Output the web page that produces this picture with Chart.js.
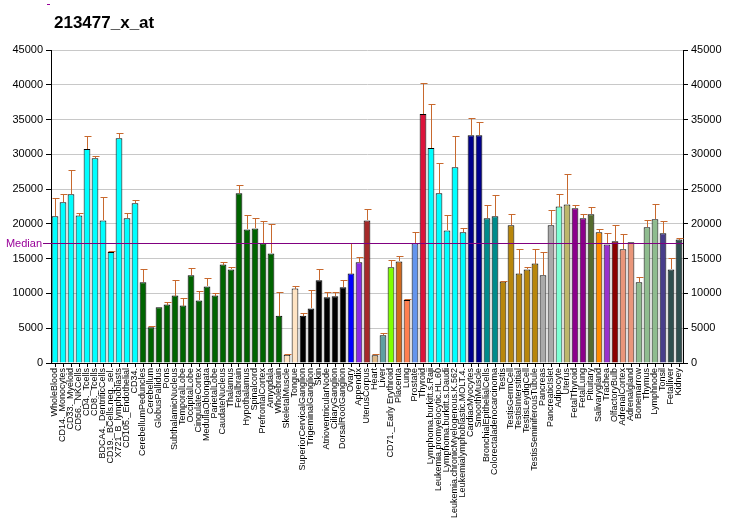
<!DOCTYPE html>
<html>
<head>
<meta charset="utf-8">
<script src="https://cdn.jsdelivr.net/npm/chart.js@4.4.1/dist/chart.umd.min.js"></script>
<style>
  body { margin: 0; background: #fff; }
  #chart { display: block; }
</style>
</head>
<body>
<canvas id="chart" width="732" height="530"></canvas>
<script>
const title = '213477_x_at';
const median = 17200;

const tissues = [
    'WholeBlood', 'CD14._Monocytes', 'CD33._Myeloid', 'CD56._NKCells', 'CD4._Tcells', 'CD8._Tcells',
    'BDCA4._DentriticCells', 'CD19._BCells.neg._sel.', 'X721_B_lymphoblasts', 'CD105._Endothelial', 'CD34.',
    'CerebellumPeduncles', 'Cerebellum', 'GlobusPallidus', 'Pons', 'SubthalamicNucleus', 'TemporalLobe',
    'OccipitalLobe', 'CingulateCortex', 'MedullaOblongata', 'ParietalLobe', 'CaudateNucleus', 'Thalamus',
    'Fetalbrain', 'Hypothalamus', 'Spinalcord', 'PrefrontalCortex', 'Amygdala', 'Wholebrain',
    'SkeletalMuscle', 'Tongue', 'SuperiorCervicalGanglion', 'TrigeminalGanglion', 'Skin',
    'AtrioventricularNode', 'CiliaryGanglion', 'DorsalRootGanglion', 'Ovary', 'Appendix', 'UterusCorpus',
    'Heart', 'Liver', 'CD71._Early Erythroid', 'Placenta', 'Lung', 'Prostate', 'Thyroid',
    'Lymphoma.burkitt.s.Raji', 'Leukemia.promyelocytic.HL.60', 'Lymphoma.burkitt.s.Daudi',
    'Leukemia.chronicMyelogenous.K.562', 'Leukemialymphoblastic.MOLT.4.', 'CardiacMyocytes', 'SmoothMuscle',
    'BronchialEpithelialCells', 'Colorectaladenocarcinoma', 'Testis', 'TestisGermCell', 'TestisInterstitial',
    'TestisLeydigCell', 'TestisSeminiferousTubule', 'Pancreas', 'PancreaticIslet', 'Adipocyte', 'Uterus',
    'FetalThyroid', 'FetalLung', 'Pituitary', 'Salivarygland', 'Trachea', 'OlfactoryBulb', 'AdrenalCortex',
    'Adrenalgland', 'Bonemarrow', 'Thymus', 'Lymphnode', 'Tonsil', 'Fetalliver', 'Kidney'
];

const expression = [
    21100, 23100, 24250, 21200, 30750, 29450, 20500, 15950, 32300, 20800, 22950,
    11600, 5150, 8000, 8400, 9700, 8250, 12600, 9000, 11000, 9700, 14150, 13450,
    24400, 19200, 19350, 17200, 15750, 6800,
    1200, 10700, 6800, 7850, 11900, 9450, 9600, 10900, 12850, 14500, 20500,
    1100, 4000, 13750, 14600, 9050, 17200, 35800,
    30900, 24400, 19050, 28150, 18800, 32750, 32750,
    20800, 21100, 11700, 19800, 12850, 13450, 14300, 12600, 19800, 22500, 22800,
    22250, 20800, 21400, 18800, 17050, 17500, 16350, 17350, 11600, 19500, 20650, 18650, 13450, 17750
];

const errorTop = [
    23700, 24350, 27700, 21500, 32600, 29750, 23800, 16050, 33050, 21500, 23400,
    13450, 5250, 8100, 8700, 12000, 9400, 13600, 10300, 12150, 10000, 14450, 13750,
    25550, 21250, 20800, 20350, 19950, 10150,
    1350, 11000, 7200, 10550, 13550, 10250, 10250, 12000, 17200, 15250, 22100,
    1350, 4350, 14750, 15400, 9150, 18800, 40250,
    37200, 28700, 21250, 32600, 19350, 35200, 34650,
    22650, 24100, 11850, 21400, 16350, 13750, 16450, 15900, 21950, 24250, 27150,
    22650, 21400, 22400, 19200, 18650, 19800, 18500, 17350, 12300, 20500, 22800, 20350, 15050, 17900
];

const barColors = [
    ...Array(11).fill('#00FFFF'),
    ...Array(18).fill('#006400'),
    '#FFE4C4', '#FFE4C4',
    ...Array(6).fill('#000000'),
    '#0000FF', '#8A2BE2', '#A52A2A', '#DEB887', '#5F9EA0', '#7FFF00', '#D2691E', '#FF7F50', '#6495ED', '#DC143C',
    ...Array(5).fill('#00FFFF'),
    '#00008B', '#00008B', '#008B8B', '#008B8B',
    ...Array(5).fill('#B8860B'),
    '#A9A9A9', '#A9A9A9', '#7FFFD4', '#BDB76B', '#8B008B', '#8B008B', '#556B2F', '#FF8C00', '#9932CC',
    '#8B0000', '#E9967A', '#E9967A', '#8FBC8F', '#8FBC8F', '#8FBC8F', '#483D8B', '#2F4F4F', '#2F4F4F'
];

// error bars, median line, title
const extras = {
    id: 'extras',
    afterDatasetsDraw(chart) {
        const ctx = chart.ctx;
        const y = chart.scales.y;
        const area = chart.chartArea;
        const meta = chart.getDatasetMeta(0);

        ctx.save();
        ctx.strokeStyle = '#C8692E';
        ctx.lineWidth = 1;
        meta.data.forEach((bar, i) => {
            const x = Math.round(bar.x) + 0.5;
            const top = Math.round(y.getPixelForValue(expression[i]));
            const end = Math.round(y.getPixelForValue(errorTop[i])) + 0.5;
            if (end >= top) return;
            ctx.beginPath();
            ctx.moveTo(x, top);
            ctx.lineTo(x, end);
            ctx.moveTo(x - 3, end);
            ctx.lineTo(x + 4, end);
            ctx.stroke();
        });

        const my = Math.round(y.getPixelForValue(median)) + 0.5;
        ctx.strokeStyle = '#800080';
        ctx.beginPath();
        ctx.moveTo(area.left - 8, my);
        ctx.lineTo(area.right, my);
        ctx.stroke();

        ctx.fillStyle = '#990099';
        ctx.font = '11px Arial, "Liberation Sans", sans-serif';
        ctx.textAlign = 'right';
        ctx.textBaseline = 'middle';
        ctx.fillText('Median', area.left - 9, my);

        ctx.fillStyle = '#000';
        ctx.font = 'bold 17px Arial, "Liberation Sans", sans-serif';
        ctx.textAlign = 'left';
        ctx.textBaseline = 'alphabetic';
        ctx.fillText(title, 54, 28);

        ctx.fillStyle = '#990099';
        ctx.fillRect(47, 4, 3, 1);
        ctx.restore();
    }
};

const tickFont = { family: 'Arial, "Liberation Sans", sans-serif', size: 11 };
const plainNumber = value => String(value);

new Chart(document.getElementById('chart'), {
    type: 'bar',
    data: {
        labels: tissues,
        datasets: [{
            data: expression,
            backgroundColor: barColors,
            borderColor: '#000',
            borderWidth: 1,
            barPercentage: 0.84,
            categoryPercentage: 1
        }]
    },
    options: {
        responsive: false,
        animation: false,
        devicePixelRatio: 1,
        layout: { padding: { top: 50, left: 0, right: 0, bottom: 0 } },
        plugins: { legend: { display: false }, tooltip: { enabled: false } },
        scales: {
            x: {
                offset: true,
                grid: { offset: false, drawOnChartArea: false, tickLength: 4, color: '#000' },
                border: { color: '#000' },
                ticks: {
                    autoSkip: false, maxRotation: 90, minRotation: 90, padding: 1, color: '#000',
                    font: { family: 'Arial, "Liberation Sans", sans-serif', size: 9 }
                },
                afterFit(scale) { scale.height = 167; }
            },
            y: {
                position: 'left',
                min: 0, max: 45000,
                ticks: { stepSize: 5000, color: '#000', font: tickFont, padding: 3, callback: plainNumber },
                grid: { color: '#C8C8C8', tickColor: '#000', tickLength: 5 },
                border: { color: '#000' },
                afterFit(scale) { scale.width = 51; }
            },
            y2: {
                position: 'right',
                min: 0, max: 45000,
                ticks: { stepSize: 5000, color: '#000', font: tickFont, padding: 3, callback: plainNumber },
                grid: { drawOnChartArea: false, tickColor: '#000', tickLength: 5 },
                border: { color: '#000' },
                afterFit(scale) { scale.width = 49; }
            }
        }
    },
    plugins: [extras]
});
</script>
</body>
</html>
